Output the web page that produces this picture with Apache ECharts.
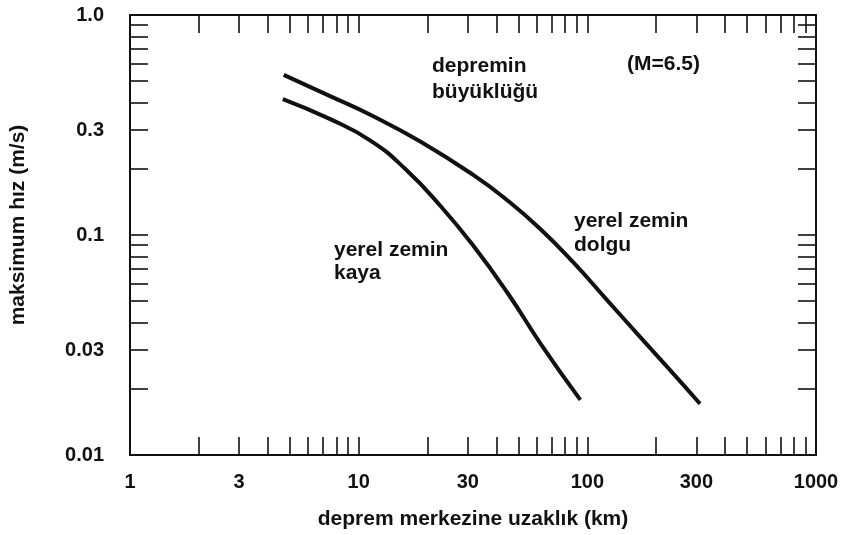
<!DOCTYPE html>
<html>
<head>
<meta charset="utf-8">
<script src="https://cdn.jsdelivr.net/npm/echarts@6/dist/echarts.min.js"></script>
<style>
html,body{margin:0;padding:0;background:#fff;}
#chart{width:844px;height:535px;}
</style>
</head>
<body>
<div id="chart"></div>
<script>
// distance (km) and maximum velocity (m/s)
const dolguX = [4.7, 7.5, 11.3, 18.6, 31.8, 44.8, 62.3, 86.9, 122, 170, 237, 311];
const dolguY = [0.534, 0.428, 0.351, 0.266, 0.187, 0.1435, 0.1065, 0.075, 0.0506, 0.0344, 0.0235, 0.0171];
const kayaX = [4.66, 7.47, 11.3, 16.0, 22.8, 31.8, 44.8, 62.3, 93.2];
const kayaY = [0.415, 0.337, 0.268, 0.1995, 0.1355, 0.0891, 0.0545, 0.0322, 0.0178];

const xTickValues = [2,3,4,5,6,7,8,9,10,20,30,40,50,60,70,80,90,100,200,300,400,500,600,700,800,900,1000];
const xLabelValues = [1, 3, 10, 30, 100, 300, 1000];
const xLabelTexts = ['1', '3', '10', '30', '100', '300', '1000'];
const yTickValues = [0.02,0.03,0.04,0.05,0.06,0.07,0.08,0.09,0.1,0.2,0.3,0.4,0.5,0.6,0.7,0.8,0.9,1];
const yLabelValues = [0.01, 0.03, 0.1, 0.3, 1];
const yLabelTexts = ['0.01', '0.03', '0.1', '0.3', '1.0'];

const FONT = 'Liberation Sans';
const INK = '#111';

function lookup(values, texts) {
  return function (v) {
    for (let i = 0; i < values.length; i++) {
      if (Math.abs(Math.log10(v) - Math.log10(values[i])) < 1e-6) return texts[i];
    }
    return '';
  };
}

const chart = echarts.init(document.getElementById('chart'), null, {renderer: 'canvas'});

function xAxisDef(pos, showLabel) {
  return {
    type: 'log', logBase: 10, min: 1, max: 1000, position: pos,
    name: showLabel ? 'deprem merkezine uzaklık (km)' : '',
    nameLocation: 'middle', nameGap: 54,
    nameTextStyle: {fontFamily: FONT, fontSize: 21, fontWeight: 'bold', color: INK},
    axisLine: {show: true, onZero: false, lineStyle: {color: INK, width: 2}},
    axisTick: {show: true, inside: true, length: 18, customValues: xTickValues, lineStyle: {color: INK, width: 1.6}},
    axisLabel: {show: showLabel, customValues: xLabelValues, formatter: lookup(xLabelValues, xLabelTexts),
      margin: 17, fontFamily: FONT, fontSize: 20, fontWeight: 'bold', color: INK},
    splitLine: {show: false}, minorTick: {show: false}
  };
}
function yAxisDef(pos, showLabel) {
  return {
    type: 'log', logBase: 10, min: 0.01, max: 1, position: pos,
    name: showLabel ? 'maksimum hız (m/s)' : '',
    nameLocation: 'middle', nameGap: 101,
    nameTextStyle: {fontFamily: FONT, fontSize: 21, fontWeight: 'bold', color: INK, padding: [0, 0, 0, 20]},
    axisLine: {show: true, onZero: false, lineStyle: {color: INK, width: 2}},
    axisTick: {show: true, inside: true, length: 18, customValues: yTickValues, lineStyle: {color: INK, width: 1.6}},
    axisLabel: {show: showLabel, customValues: yLabelValues, formatter: lookup(yLabelValues, yLabelTexts),
      margin: 26, fontFamily: FONT, fontSize: 20, fontWeight: 'bold', color: INK},
    splitLine: {show: false}, minorTick: {show: false}
  };
}

function pairs(xs, ys) { return xs.map((x, i) => [x, ys[i]]); }

function txt(text, lh) {
  return {text: text, fontFamily: FONT, fontSize: 21, fontWeight: 'bold', fill: INK, lineHeight: lh};
}

chart.setOption({
  backgroundColor: '#fff',
  animation: false,
  grid: {left: 129, right: 28, top: 15, bottom: 80, containLabel: false},
  xAxis: [xAxisDef('bottom', true), xAxisDef('top', false)],
  yAxis: [yAxisDef('left', true), yAxisDef('right', false)],
  series: [
    {name: 'yerel zemin dolgu', type: 'line', smooth: 0.5, showSymbol: false,
      data: pairs(dolguX, dolguY), lineStyle: {color: INK, width: 4}},
    {name: 'yerel zemin kaya', type: 'line', smooth: 0.5, showSymbol: false,
      data: pairs(kayaX, kayaY), lineStyle: {color: INK, width: 4}}
  ],
  graphic: [
    {type: 'text', left: 432, top: 53, style: txt('depremin\nbüyüklüğü', 26)},
    {type: 'text', left: 627, top: 51, style: txt('(M=6.5)', 26)},
    {type: 'text', left: 334, top: 239, style: txt('yerel zemin\nkaya', 23)},
    {type: 'text', left: 574, top: 209, style: txt('yerel zemin\ndolgu', 24)}
  ]
});
</script>
</body>
</html>
